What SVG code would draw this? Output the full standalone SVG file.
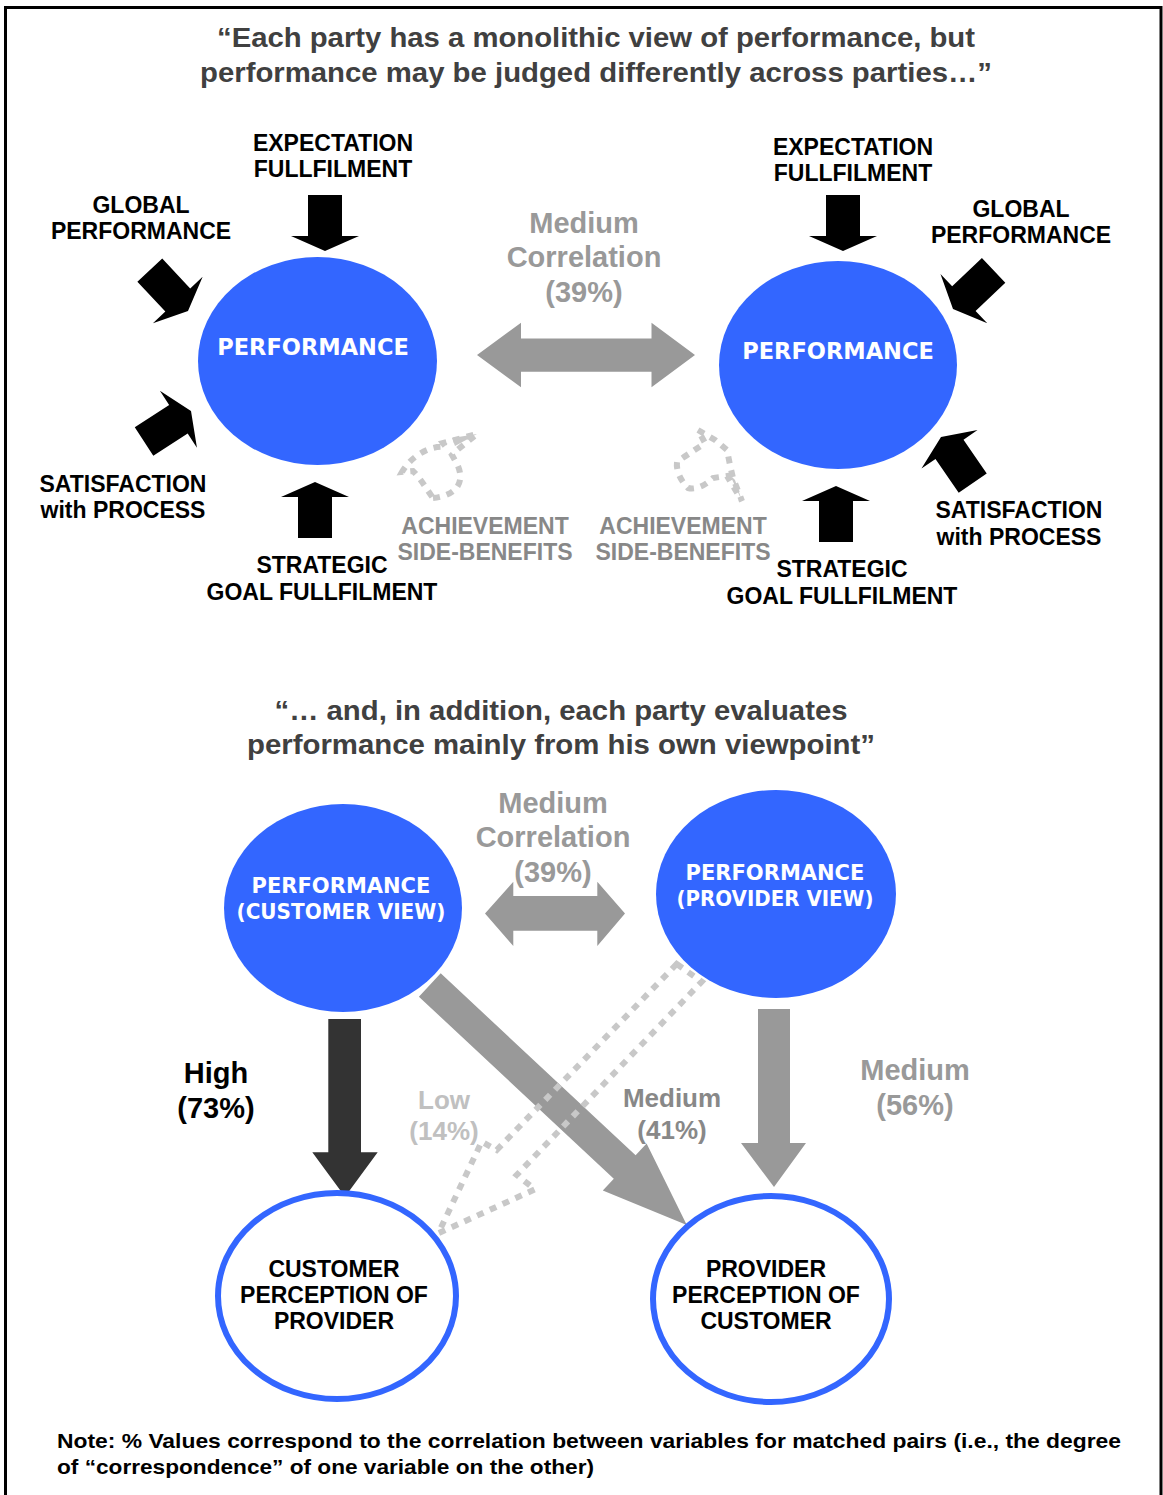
<svg xmlns="http://www.w3.org/2000/svg" xmlns:xlink="http://www.w3.org/1999/xlink" width="1163" height="1495" viewBox="0 0 1163 1495">
<style>
.h{font-family:"Liberation Sans",Arial,sans-serif;font-weight:bold;font-size:28px;fill:#404040;text-anchor:middle}
.lb{font-family:"Liberation Sans",Arial,sans-serif;font-weight:bold;font-size:23px;fill:#000;text-anchor:middle}
.ct{font-family:"DejaVu Sans",Verdana,sans-serif;font-weight:bold;font-size:22.5px;fill:#fff;text-anchor:middle}
.ct2{font-family:"DejaVu Sans",Verdana,sans-serif;font-weight:bold;font-size:21px;fill:#fff;text-anchor:middle}
.gm{font-family:"Liberation Sans",Arial,sans-serif;font-weight:bold;font-size:29px;fill:#999;text-anchor:middle}
.ga{font-family:"Liberation Sans",Arial,sans-serif;font-weight:bold;font-size:23px;fill:#888;text-anchor:middle}
.g26{font-family:"Liberation Sans",Arial,sans-serif;font-weight:bold;font-size:26px;text-anchor:middle}
.note{font-family:"Liberation Sans",Arial,sans-serif;font-weight:bold;font-size:21px;fill:#000}
.fill{fill:#3366ff}
.ring{fill:#fff;stroke:#3366ff;stroke-width:6}
.dot{fill:none;stroke:#c8c8c8;stroke-width:6;stroke-dasharray:7 7}
.gry{fill:#999}
</style>
<defs>
<polygon id="blk" points="-56,-17 -15,-17 -15,-34 0,0 -15,34 -15,17 -56,17" fill="#000"/>
</defs>
<rect x="5.5" y="7.5" width="1155.5" height="1500" fill="#fff" stroke="#000" stroke-width="3"/>

<g id="headings">
<text class="h" x="596" y="47" textLength="758" lengthAdjust="spacingAndGlyphs">“Each party has a monolithic view of performance, but</text>
<text class="h" x="596" y="82" textLength="792" lengthAdjust="spacingAndGlyphs">performance may be judged differently across parties…”</text>
<text class="h" x="561" y="720" textLength="573" lengthAdjust="spacingAndGlyphs">“… and, in addition, each party evaluates</text>
<text class="h" x="561" y="754" textLength="628" lengthAdjust="spacingAndGlyphs">performance mainly from his own viewpoint”</text>
</g>

<g id="connectors">
<use xlink:href="#blk" href="#blk" transform="translate(325,251) rotate(90)"/>
<use xlink:href="#blk" href="#blk" transform="translate(188,311) rotate(47)"/>
<use xlink:href="#blk" href="#blk" transform="translate(191,411) rotate(-33)"/>
<use xlink:href="#blk" href="#blk" transform="translate(315,482) rotate(-90)"/>
<use xlink:href="#blk" href="#blk" transform="translate(843,251) rotate(90)"/>
<use xlink:href="#blk" href="#blk" transform="translate(953,309) rotate(136.5)"/>
<use xlink:href="#blk" href="#blk" transform="translate(941,437) rotate(-124.5)"/>
<use xlink:href="#blk" href="#blk" transform="translate(836,486) rotate(-90)"/>
<polygon class="gry" points="477,355 521,322.7 521,338.5 651.5,338.5 651.5,322.7 695,355 651.5,387.3 651.5,371.7 521,371.7 521,387.3"/>
<polygon class="gry" points="485,913.5 513.3,881.7 513.3,896 597.3,896 597.3,881.7 625,913.5 597.3,946 597.3,930.7 513.3,930.7 513.3,946"/>
<path class="dot" d="M433,498 C452,496 466,486 458,466 L452,455 L456,451 L477,434 L443,443 L446,447 C428,445 410,458 402,472 L413,471 C420,478 426,488 433,498 Z"/>
<polygon points="452,438 477,434 455,446" fill="#c8c8c8"/>
<path class="dot" d="M698,430 L715,440 L727,450 L730,465 L733,478 L742,501 L727,476 L713,478 C705,486 695,490 688,488 C680,480 676,470 677,462 C685,456 695,450 705,443 Z"/>
<polygon points="730,475 742,501 735,480" fill="#c8c8c8"/>
<polygon points="328.3,1019 361,1019 361,1152.3 377.7,1152.3 345,1196.7 312.3,1152.3 328.3,1152.3" fill="#333"/>
<polygon class="gry" points="758,1009 790,1009 790,1143 806,1143 774,1187 741,1143 758,1143"/>
<polygon class="gry" points="418.9,996.7 440.7,973.3 635.6,1155.3 646.6,1143.6 686.8,1225.1 602.8,1190.4 613.8,1178.7"/>
<path class="dot" d="M676.7,964 L496.7,1150 L481.7,1141.7 L438.3,1233.3 L535,1189.3 L516.7,1175 L701.7,981.7 Z"/>
</g>

<g id="perf-left">
<ellipse class="fill" cx="317.5" cy="361" rx="119.5" ry="104"/>
<text class="ct" x="313" y="355">PERFORMANCE</text>
</g>
<g id="perf-right">
<ellipse class="fill" cx="838" cy="365" rx="119" ry="104"/>
<text class="ct" x="838" y="359">PERFORMANCE</text>
</g>
<g id="perf-customer">
<ellipse class="fill" cx="343" cy="908" rx="119" ry="104"/>
<text class="ct2" x="341" y="893">PERFORMANCE</text>
<text class="ct2" x="341" y="919" textLength="209" lengthAdjust="spacingAndGlyphs">(CUSTOMER VIEW)</text>
</g>
<g id="perf-provider">
<ellipse class="fill" cx="776" cy="894" rx="120" ry="104"/>
<text class="ct2" x="775" y="880">PERFORMANCE</text>
<text class="ct2" x="775" y="906" textLength="197" lengthAdjust="spacingAndGlyphs">(PROVIDER VIEW)</text>
</g>
<g id="cust-perception">
<ellipse class="ring" cx="337" cy="1296" rx="119" ry="103"/>
<text class="lb" x="334" y="1277">CUSTOMER</text>
<text class="lb" x="334" y="1303">PERCEPTION OF</text>
<text class="lb" x="334" y="1329">PROVIDER</text>
</g>
<g id="prov-perception">
<ellipse class="ring" cx="771" cy="1299" rx="118" ry="103"/>
<text class="lb" x="766" y="1277">PROVIDER</text>
<text class="lb" x="766" y="1303">PERCEPTION OF</text>
<text class="lb" x="766" y="1329">CUSTOMER</text>
</g>

<g id="labels">
<text class="lb" x="333" y="151">EXPECTATION</text>
<text class="lb" x="333" y="177">FULLFILMENT</text>
<text class="lb" x="141" y="213">GLOBAL</text>
<text class="lb" x="141" y="239">PERFORMANCE</text>
<text class="lb" x="123" y="492">SATISFACTION</text>
<text class="lb" x="123" y="518">with PROCESS</text>
<text class="lb" x="322" y="573">STRATEGIC</text>
<text class="lb" x="322" y="600">GOAL FULLFILMENT</text>
<text class="lb" x="853" y="155">EXPECTATION</text>
<text class="lb" x="853" y="181">FULLFILMENT</text>
<text class="lb" x="1021" y="217">GLOBAL</text>
<text class="lb" x="1021" y="243">PERFORMANCE</text>
<text class="lb" x="1019" y="518">SATISFACTION</text>
<text class="lb" x="1019" y="545">with PROCESS</text>
<text class="lb" x="842" y="577">STRATEGIC</text>
<text class="lb" x="842" y="604">GOAL FULLFILMENT</text>
<text class="gm" x="584" y="233">Medium</text>
<text class="gm" x="584" y="267">Correlation</text>
<text class="gm" x="584" y="302">(39%)</text>
<text class="ga" x="485" y="534">ACHIEVEMENT</text>
<text class="ga" x="485" y="560">SIDE-BENEFITS</text>
<text class="ga" x="683" y="534">ACHIEVEMENT</text>
<text class="ga" x="683" y="560">SIDE-BENEFITS</text>
<text class="gm" x="553" y="813">Medium</text>
<text class="gm" x="553" y="847">Correlation</text>
<text class="gm" x="553" y="882">(39%)</text>
<text class="gm" x="216" y="1083" style="fill:#000">High</text>
<text class="gm" x="216" y="1118" style="fill:#000">(73%)</text>
<text class="g26" x="444" y="1109" fill="#c0c0c0">Low</text>
<text class="g26" x="444" y="1140" fill="#c0c0c0">(14%)</text>
<text class="g26" x="672" y="1107" fill="#888">Medium</text>
<text class="g26" x="672" y="1139" fill="#888">(41%)</text>
<text class="gm" x="915" y="1080">Medium</text>
<text class="gm" x="915" y="1115">(56%)</text>
</g>

<g id="note">
<text class="note" x="57" y="1448" textLength="1064" lengthAdjust="spacingAndGlyphs">Note: % Values correspond to the correlation between variables for matched pairs (i.e., the degree</text>
<text class="note" x="57" y="1474" textLength="537" lengthAdjust="spacingAndGlyphs">of “correspondence” of one variable on the other)</text>
</g>
</svg>
